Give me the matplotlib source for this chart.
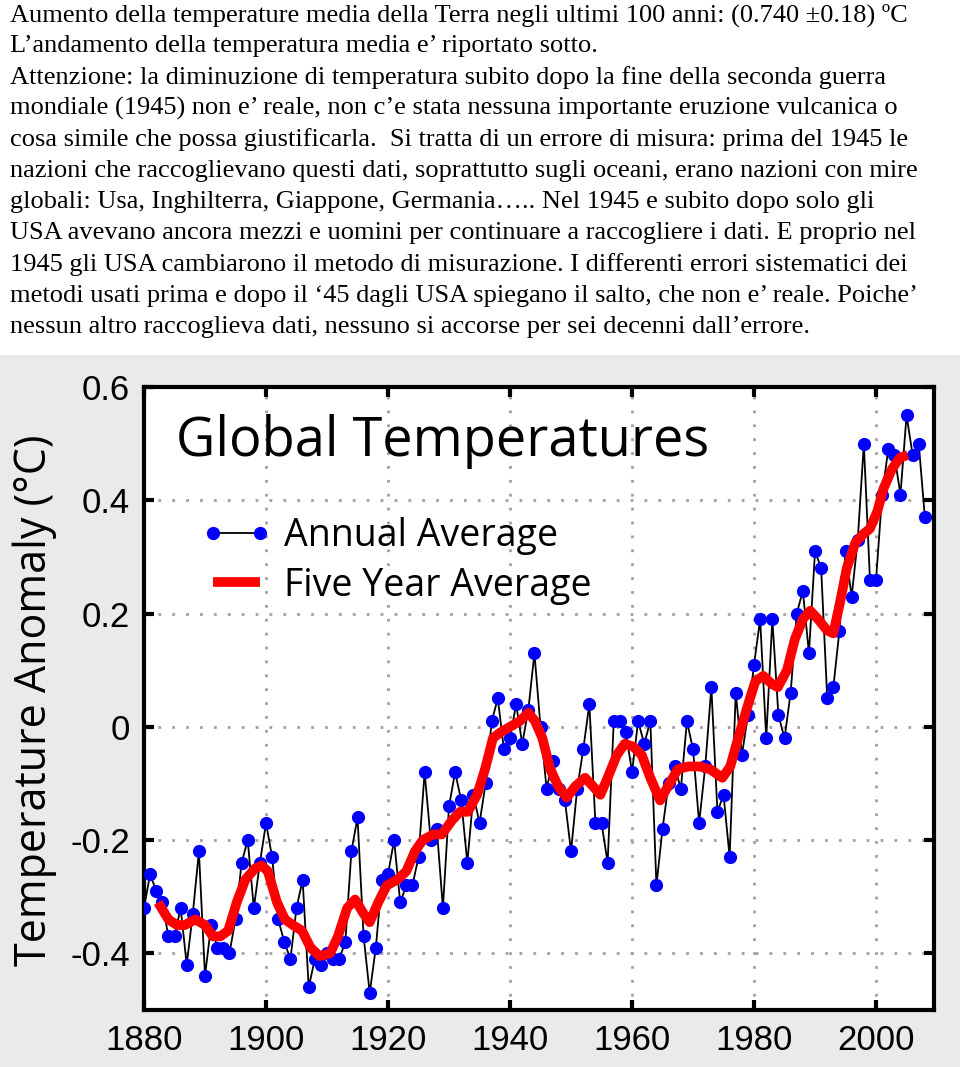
import numpy as np
import matplotlib.pyplot as plt
from matplotlib.patches import Rectangle

# ------------------------------------------------------------------
# DATA
# ------------------------------------------------------------------
first_year = 1880
annual = [
    -0.32, -0.26, -0.29, -0.31, -0.37, -0.37, -0.32, -0.42, -0.33, -0.22,   # 1880s
    -0.44, -0.35, -0.39, -0.39, -0.40, -0.34, -0.24, -0.20, -0.32, -0.24,   # 1890s
    -0.17, -0.23, -0.34, -0.38, -0.41, -0.32, -0.27, -0.46, -0.41, -0.42,   # 1900s
    -0.40, -0.41, -0.41, -0.38, -0.22, -0.16, -0.37, -0.47, -0.39, -0.27,   # 1910s
    -0.26, -0.20, -0.31, -0.28, -0.28, -0.23, -0.08, -0.20, -0.18, -0.32,   # 1920s
    -0.14, -0.08, -0.13, -0.24, -0.12, -0.17, -0.10, 0.01, 0.05, -0.04,     # 1930s
    -0.02, 0.04, -0.03, 0.03, 0.13, 0.00, -0.11, -0.06, -0.11, -0.13,       # 1940s
    -0.22, -0.11, -0.04, 0.04, -0.17, -0.17, -0.24, 0.01, 0.01, -0.01,      # 1950s
    -0.08, 0.01, -0.03, 0.01, -0.28, -0.18, -0.10, -0.07, -0.11, 0.01,      # 1960s
    -0.04, -0.17, -0.07, 0.07, -0.15, -0.12, -0.23, 0.06, -0.05, 0.02,      # 1970s
    0.11, 0.19, -0.02, 0.19, 0.02, -0.02, 0.06, 0.20, 0.24, 0.13,           # 1980s
    0.31, 0.28, 0.05, 0.07, 0.17, 0.31, 0.23, 0.33, 0.50, 0.26,             # 1990s
    0.26, 0.41, 0.49, 0.48, 0.41, 0.55, 0.48, 0.50, 0.37,                   # 2000s
]
years = np.arange(first_year, first_year + len(annual))

# five year average
smooth_years = [
    1882.3, 1884.0, 1885.4, 1886.7, 1888.4, 1890.0, 1891.3, 1892.5, 1893.8, 1895.2,
    1896.6, 1898.2, 1899.3, 1900.3, 1901.8, 1903.1, 1904.4, 1905.9, 1907.3, 1908.8,
    1910.5, 1911.8, 1913.3, 1914.6, 1916.0, 1917.0, 1918.4, 1919.8, 1921.5, 1923.0,
    1924.4, 1925.7, 1927.4, 1928.8, 1930.5, 1931.8, 1933.1, 1934.6, 1935.9, 1937.2,
    1938.4, 1940.0, 1941.6, 1943.0, 1944.1, 1945.3, 1946.6, 1947.9, 1949.3, 1950.7,
    1952.3, 1953.6, 1954.8, 1956.0, 1957.5, 1958.8, 1960.2, 1961.6, 1963.0, 1964.6,
    1965.9, 1967.5, 1969.2, 1971.1, 1972.8, 1974.8, 1976.1, 1977.4, 1978.9, 1980.2,
    1981.5, 1983.0, 1983.9, 1985.4, 1986.7, 1988.0, 1989.2, 1990.5, 1992.0, 1993.0,
    1994.1, 1995.2, 1996.6, 1997.9, 1999.0, 2000.2, 2001.2, 2002.6, 2003.9, 2005.2,
]
smooth_vals = [
    -0.31, -0.34, -0.35, -0.35, -0.34, -0.35, -0.37, -0.37, -0.36, -0.31,
    -0.27, -0.25, -0.245, -0.255, -0.31, -0.34, -0.35, -0.36, -0.39, -0.405,
    -0.40, -0.37, -0.32, -0.305, -0.33, -0.345, -0.31, -0.28, -0.27, -0.255,
    -0.22, -0.20, -0.19, -0.19, -0.165, -0.15, -0.15, -0.12, -0.075, -0.02,
    -0.01, 0.00, 0.01, 0.025, 0.01, -0.02, -0.075, -0.105, -0.125, -0.105,
    -0.09, -0.105, -0.12, -0.09, -0.05, -0.03, -0.035, -0.05, -0.09, -0.13,
    -0.105, -0.075, -0.07, -0.07, -0.075, -0.09, -0.07, -0.02, 0.035, 0.08,
    0.09, 0.075, 0.07, 0.10, 0.155, 0.19, 0.205, 0.19, 0.17, 0.165,
    0.22, 0.28, 0.325, 0.34, 0.35, 0.38, 0.42, 0.455, 0.475, 0.48,
]

x_ticks = [1880, 1900, 1920, 1940, 1960, 1980, 2000]
y_ticks = [-0.4, -0.2, 0, 0.2, 0.4, 0.6]
y_labels = ["-0.4", "-0.2", "0", "0.2", "0.4", "0.6"]

paragraph = [
    "Aumento della temperature media della Terra negli ultimi 100 anni: (0.740 ±0.18) ºC",
    "L’andamento della temperatura media e’ riportato sotto.",
    "Attenzione: la diminuzione di temperatura subito dopo la fine della seconda guerra",
    "mondiale (1945) non e’ reale, non c’e stata nessuna importante eruzione vulcanica o",
    "cosa simile che possa giustificarla.  Si tratta di un errore di misura: prima del 1945 le",
    "nazioni che raccoglievano questi dati, soprattutto sugli oceani, erano nazioni con mire",
    "globali: Usa, Inghilterra, Giappone, Germania….. Nel 1945 e subito dopo solo gli",
    "USA avevano ancora mezzi e uomini per continuare a raccogliere i dati. E proprio nel",
    "1945 gli USA cambiarono il metodo di misurazione. I differenti errori sistematici dei",
    "metodi usati prima e dopo il ‘45 dagli USA spiegano il salto, che non e’ reale. Poiche’",
    "nessun altro raccoglieva dati, nessuno si accorse per sei decenni dall’errore.",
]

# ------------------------------------------------------------------
# FIGURE
# ------------------------------------------------------------------
W, H = 960, 1067
fig = plt.figure(figsize=(W / 100, H / 100), dpi=100)
fig.patch.set_facecolor("white")

# grey panel behind the chart
fig.add_artist(Rectangle((0, 0), 1, 1 - 355 / H, transform=fig.transFigure,
                         facecolor="#e9eaec", edgecolor="none", zorder=0))

# text block above the chart
for i, line in enumerate(paragraph):
    fig.text(10 / W, 1 - (15 + i * 31.2) / H, line, family="Liberation Serif",
             fontsize=19, va="center", ha="left", color="black")

ax = fig.add_axes([144 / W, 1 - 1010 / H, 790 / W, 623 / H])
ax.set_facecolor("white")

ax.plot(years, annual, color="black", linewidth=1.3, marker="o",
        markersize=8.5, markerfacecolor="#0000ff", markeredgecolor="#0000ff",
        label="Annual Average", zorder=3)
ax.plot(smooth_years, smooth_vals, color="#ff0000", linewidth=7,
        solid_capstyle="butt", label="Five Year Average", zorder=4)

ax.set_xlim(1880, 2009.5)
ax.set_ylim(-0.5, 0.6)
ax.set_xticks(x_ticks)
ax.set_yticks(y_ticks)
ax.set_yticklabels(y_labels)

for lab in ax.get_xticklabels() + ax.get_yticklabels():
    lab.set_family("Liberation Sans")
    lab.set_fontsize(25)
ax.tick_params(direction="in", length=7, width=3, color="black",
               top=True, right=True, pad=10)

ax.grid(True, color="#a0a0a0", linestyle=(0, (1, 4)), linewidth=2)
for s in ax.spines.values():
    s.set_linewidth(3)
    s.set_color("black")

ax.text(0.04, 0.912, "Global Temperatures", transform=ax.transAxes,
        family="Open Sans", fontsize=39, va="center", ha="left", zorder=5)

ax.legend(loc="upper left", bbox_to_anchor=(0.03, 0.845), frameon=False,
          prop={"family": "Open Sans", "size": 27}, numpoints=2,
          handlelength=1.85, handletextpad=0.35, labelspacing=0.3)

fig.text(35 / W, 1 - 700 / H, "Temperature Anomaly (°C)", rotation=90,
         family="Open Sans", fontsize=31, va="center", ha="center")

fig.savefig("out.png", dpi=100)
